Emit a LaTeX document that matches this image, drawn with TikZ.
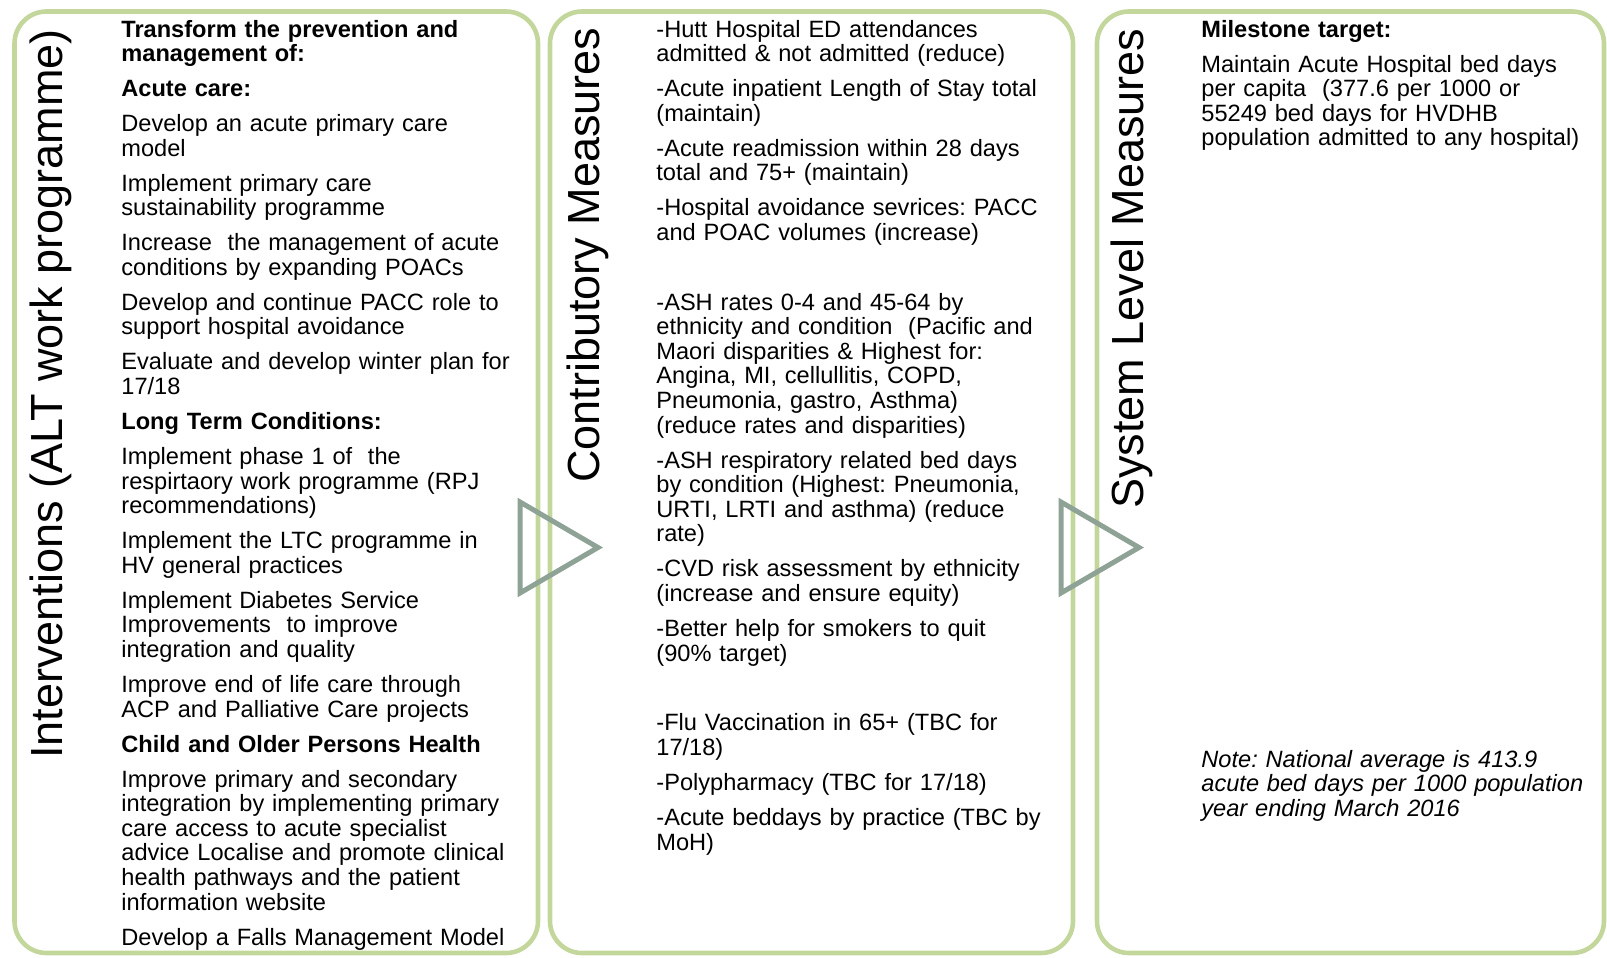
\documentclass[tikz,border=0pt]{standalone}
\usepackage{fontspec}
\setmainfont{Liberation Sans}
\frenchspacing
\definecolor{panelgreen}{RGB}{195,214,155}
\definecolor{chevgrey}{RGB}{143,162,150}
\begin{document}
\begin{tikzpicture}[x=0.5pt,y=-0.5pt,
  panel/.style={draw=panelgreen,line width=2.3pt,rounded corners=16pt,minimum height=470.75pt,inner sep=0pt},
  chevron/.style={draw=chevgrey,line width=2.5pt},
  title/.style={rotate=90,anchor=base west,inner sep=0pt,font=\fontsize{22.5}{26}\selectfont},
  body/.style={anchor=base west,inner sep=0pt,text width=215pt,align=left,font=\fontsize{11.8}{12.3}\selectfont}]

  \useasboundingbox (0,0) rectangle (1607,958);

  \node[panel,minimum width=261.75pt] (interv) at (276.25,482.25) {};
  \node[panel,minimum width=261.5pt] (contrib) at (811.5,482.25) {};
  \node[panel,minimum width=253.5pt] (syslevel) at (1350.5,482.25) {};

  \draw[chevron] (520,502) -- (598,547.5) -- (520,593) -- cycle;
  \draw[chevron] (1061,502) -- (1139,547.5) -- (1061,593) -- cycle;

  \node[title] (intervtitle) at (62.5,759) {Interventions (ALT work programme)};
  \node[title] (contribtitle) at (599,483) {Contributory Measures};
  \node[title] (systitle) at (1143,509) {System Level Measures};

  \node[body] (intervtext) at (121,37) {%
    \textbf{Transform the prevention and}\\
    \textbf{management of:}\\[5.2pt]
    \textbf{Acute care:}\\[5.2pt]
    Develop an acute primary care\\
    model\\[5.2pt]
    Implement primary care\\
    sustainability programme\\[5.2pt]
    Increase\ \ the management of acute\\
    conditions by expanding POACs\\[5.2pt]
    Develop and continue PACC role to\\
    support hospital avoidance\\[5.2pt]
    Evaluate and develop winter plan for\\
    17/18\\[5.2pt]
    \textbf{Long Term Conditions:}\\[5.2pt]
    Implement phase 1 of\ \ the\\
    respirtaory work programme (RPJ\\
    recommendations)\\[5.2pt]
    Implement the LTC programme in\\
    HV general practices\\[5.2pt]
    Implement Diabetes Service\\
    Improvements\ \ to improve\\
    integration and quality\\[5.2pt]
    Improve end of life care through\\
    ACP and Palliative Care projects\\[5.2pt]
    \textbf{Child and Older Persons Health}\\[5.2pt]
    Improve primary and secondary\\
    integration by implementing primary\\
    care access to acute specialist\\
    advice Localise and promote clinical\\
    health pathways and the patient\\
    information website\\[5.2pt]
    Develop a Falls Management Model};

  \node[body] (contribtext) at (656,37) {%
    -Hutt Hospital ED attendances\\
    admitted \& not admitted (reduce)\\[5.2pt]
    -Acute inpatient Length of Stay total\\
    (maintain)\\[5.2pt]
    -Acute readmission within 28 days\\
    total and 75+ (maintain)\\[5.2pt]
    -Hospital avoidance sevrices: PACC\\
    and POAC volumes (increase)\\[22.6pt]
    -ASH rates 0-4 and 45-64 by\\
    ethnicity and condition\ \ (Pacific and\\
    Maori disparities \& Highest for:\\
    Angina, MI, cellullitis, COPD,\\
    Pneumonia, gastro, Asthma)\\
    (reduce rates and disparities)\\[5.2pt]
    -ASH respiratory related bed days\\
    by condition (Highest: Pneumonia,\\
    URTI, LRTI and asthma) (reduce\\
    rate)\\[5.2pt]
    -CVD risk assessment by ethnicity\\
    (increase and ensure equity)\\[5.2pt]
    -Better help for smokers to quit\\
    (90\% target)\\[22.6pt]
    -Flu Vaccination in 65+ (TBC for\\
    17/18)\\[5.2pt]
    -Polypharmacy (TBC for 17/18)\\[5.2pt]
    -Acute beddays by practice (TBC by\\
    MoH)};

  \node[body] (systext) at (1201,37) {%
    \textbf{Milestone target:}\\[5.2pt]
    Maintain Acute Hospital bed days\\
    per capita\ \ (377.6 per 1000 or\\
    55249 bed days for HVDHB\\
    population admitted to any hospital)};

  \node[body,font=\fontsize{11.8}{12.3}\selectfont\itshape] (sysnote) at (1201,767) {%
    Note: National average is 413.9\\
    acute bed days per 1000 population\\
    year ending March 2016};
\end{tikzpicture}
\end{document}
